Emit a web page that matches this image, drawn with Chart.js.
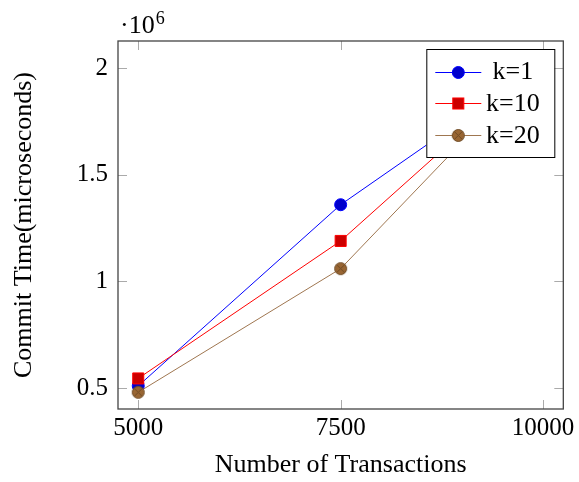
<!DOCTYPE html>
<html>
<head>
<meta charset="utf-8">
<script src="https://cdn.jsdelivr.net/npm/chart.js@4.4.1/dist/chart.umd.min.js"></script>
<style>
  html, body { margin: 0; padding: 0; background: #fff; }
  #wrap { width: 579px; height: 482px; }
</style>
</head>
<body>
<div id="wrap"><canvas id="commitChart"></canvas></div>
<script>
const transactions = [5000, 7500, 10000];
const k1Times = [510000, 1360000, 2020000];
const k10Times = [545000, 1190000, 2040000];
const k20Times = [480000, 1060000, 2050000];
const seriesLabels = ['k=1', 'k=10', 'k=20'];
const xTickValues = [5000, 7500, 10000];
const yTickValues = [500000, 1000000, 1500000, 2000000];

const serif = "'Liberation Serif', 'Times New Roman', serif";

// pgfplots "otimes*" mark
function otimesMark(fill, line) {
  const c = document.createElement('canvas');
  c.width = 15; c.height = 15;
  const g = c.getContext('2d');
  g.beginPath();
  g.arc(7.5, 7.5, 6, 0, Math.PI * 2);
  g.fillStyle = fill;
  g.fill();
  g.lineWidth = 1;
  g.strokeStyle = line;
  g.stroke();
  const d = 6 * Math.SQRT1_2;
  g.beginPath();
  g.moveTo(7.5 - d, 7.5 - d); g.lineTo(7.5 + d, 7.5 + d);
  g.moveTo(7.5 + d, 7.5 - d); g.lineTo(7.5 - d, 7.5 + d);
  g.stroke();
  return c;
}

function toPoints(values) {
  return transactions.map((x, i) => ({ x: x, y: values[i] }));
}

const boxFrame = {
  id: 'boxFrame',
  beforeDatasetsDraw(chart) {
    const { ctx, chartArea: a, scales } = chart;
    ctx.save();
    ctx.strokeStyle = '#aaaaaa';
    ctx.lineWidth = 1;
    const len = 9;
    ctx.beginPath();
    xTickValues.forEach(v => {
      const px = Math.round(scales.x.getPixelForValue(v)) + 0.5;
      ctx.moveTo(px, a.bottom); ctx.lineTo(px, a.bottom - len);
      ctx.moveTo(px, a.top); ctx.lineTo(px, a.top + len);
    });
    yTickValues.forEach(v => {
      const py = Math.round(scales.y.getPixelForValue(v)) + 0.5;
      ctx.moveTo(a.left, py); ctx.lineTo(a.left + len, py);
      ctx.moveTo(a.right, py); ctx.lineTo(a.right - len, py);
    });
    ctx.stroke();
    ctx.strokeStyle = '#444444';
    ctx.lineWidth = 1.3;
    ctx.strokeRect(a.left, a.top, a.right - a.left, a.bottom - a.top);
    ctx.restore();
  },
  afterDraw(chart) {
    const { ctx, chartArea: a } = chart;
    ctx.save();
    // scale factor above the y axis
    ctx.fillStyle = '#000';
    ctx.textBaseline = 'alphabetic';
    ctx.textAlign = 'left';
    ctx.font = '26px ' + serif;
    ctx.fillText('\u00b710', a.left + 2, a.top - 8);
    const w = ctx.measureText('\u00b710').width;
    ctx.font = '18px ' + serif;
    ctx.fillText('6', a.left + 3 + w, a.top - 17);

    // legend box
    const bw = 128, bh = 108;
    const bx = a.right - 9 - bw, by = a.top + 8;
    ctx.fillStyle = '#fff';
    ctx.fillRect(bx, by, bw, bh);
    ctx.strokeStyle = '#000';
    ctx.lineWidth = 1;
    ctx.strokeRect(bx + 0.5, by + 0.5, bw, bh);
    chart.data.datasets.forEach((ds, i) => {
      const cy = by + 22.5 + i * 31.7;
      ctx.strokeStyle = ds.borderColor;
      ctx.lineWidth = 1;
      ctx.beginPath();
      ctx.moveTo(bx + 9, Math.round(cy) + 0.5);
      ctx.lineTo(bx + 55, Math.round(cy) + 0.5);
      ctx.stroke();
      const mx = bx + 32, my = Math.round(cy) + 0.5;
      if (ds.pointStyle instanceof HTMLCanvasElement) {
        ctx.drawImage(ds.pointStyle, mx - 7.5, my - 7.5);
      } else if (ds.pointStyle === 'rect') {
        const s = ds.pointRadius * Math.SQRT1_2;
        ctx.fillStyle = ds.pointBackgroundColor;
        ctx.fillRect(mx - s, my - s, 2 * s, 2 * s);
        ctx.strokeStyle = ds.pointBorderColor;
        ctx.strokeRect(mx - s, my - s, 2 * s, 2 * s);
      } else {
        ctx.beginPath();
        ctx.arc(mx, my, ds.pointRadius, 0, Math.PI * 2);
        ctx.fillStyle = ds.pointBackgroundColor;
        ctx.fill();
        ctx.strokeStyle = ds.pointBorderColor;
        ctx.stroke();
      }
      ctx.fillStyle = '#000';
      ctx.font = '26px ' + serif;
      ctx.textAlign = 'center';
      ctx.textBaseline = 'middle';
      ctx.fillText(ds.label, bx + 86.5, cy + 1);
    });
    ctx.restore();
  }
};

new Chart(document.getElementById('commitChart'), {
  type: 'line',
  data: {
    datasets: [
      {
        label: seriesLabels[0],
        data: toPoints(k1Times),
        borderColor: '#0000ff',
        borderWidth: 1,
        pointStyle: 'circle',
        pointRadius: 6,
        pointBackgroundColor: '#0000cc',
        pointBorderColor: '#0000ff',
        pointBorderWidth: 1,
        order: 2,
      },
      {
        label: seriesLabels[1],
        data: toPoints(k10Times),
        borderColor: '#ff0000',
        borderWidth: 1,
        pointStyle: 'rect',
        pointRadius: 7.8,
        pointBackgroundColor: '#cc0000',
        pointBorderColor: '#ff0000',
        pointBorderWidth: 1,
        order: 1,
      },
      {
        label: seriesLabels[2],
        data: toPoints(k20Times),
        borderColor: '#9f7650',
        borderWidth: 1,
        pointStyle: otimesMark('#996633', '#6e4a24'),
        pointRadius: 6,
        order: 0,
      },
    ],
  },
  options: {
    responsive: true,
    maintainAspectRatio: false,
    animation: false,
    events: [],
    layout: { padding: { top: 41, right: 15, left: 0, bottom: 0 } },
    plugins: { legend: { display: false }, tooltip: { enabled: false } },
    scales: {
      x: {
        type: 'linear',
        min: 4750,
        max: 10250,
        afterBuildTicks: s => { s.ticks = xTickValues.map(v => ({ value: v })); },
        afterFit: s => { s.height = 73; },
        grid: { display: false, drawTicks: false },
        border: { display: false },
        ticks: {
          color: '#000',
          padding: 4,
          maxRotation: 0,
          font: { family: serif, size: 25 },
          callback: v => String(v),
        },
        title: {
          display: true,
          text: 'Number of Transactions',
          color: '#000',
          font: { family: serif, size: 26 },
          padding: { top: 0, bottom: 1 },
        },
      },
      y: {
        min: 401600,
        max: 2128000,
        afterBuildTicks: s => { s.ticks = yTickValues.map(v => ({ value: v })); },
        afterFit: s => { s.width = 118; },
        grid: { display: false, drawTicks: false },
        border: { display: false },
        ticks: {
          color: '#000',
          padding: 10,
          font: { family: serif, size: 25 },
          callback: v => String(v / 1e6),
        },
        title: {
          display: true,
          text: 'Commit Time(microseconds)',
          color: '#000',
          font: { family: serif, size: 26 },
          padding: { top: 9, bottom: 0 },
        },
      },
    },
  },
  plugins: [boxFrame],
});
</script>
</body>
</html>
